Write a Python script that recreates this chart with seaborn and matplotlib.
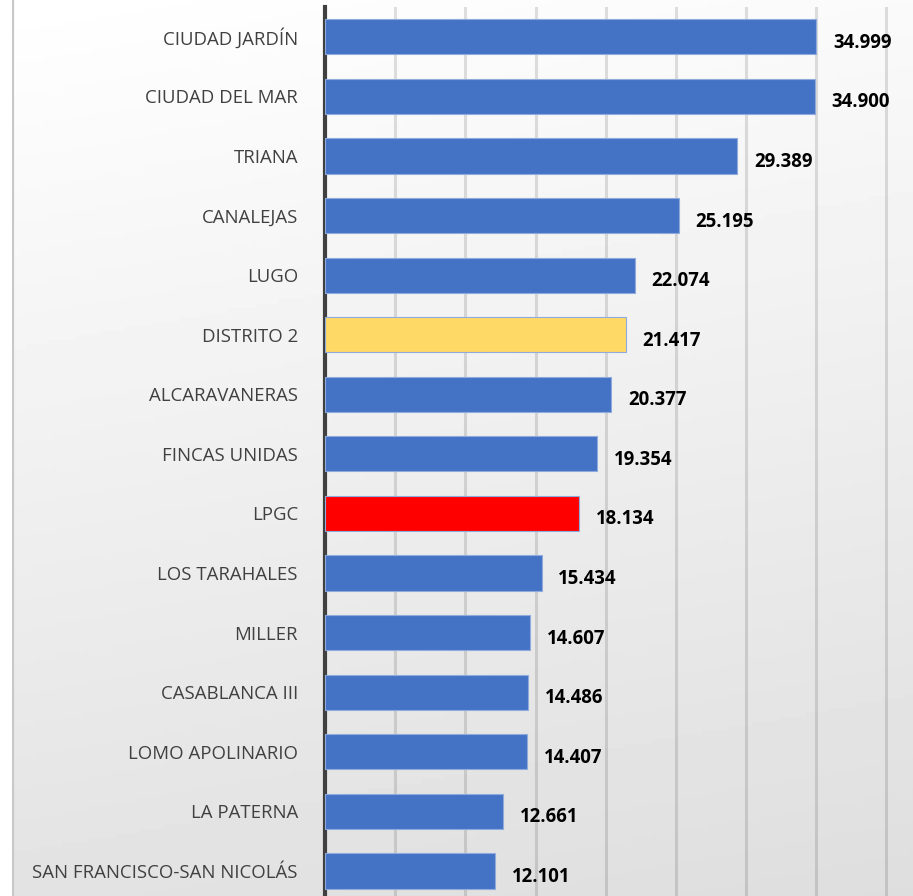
import matplotlib.pyplot as plt
import numpy as np
import pandas as pd
import seaborn as sns

barrios = [
    "CIUDAD JARDÍN", "CIUDAD DEL MAR", "TRIANA", "CANALEJAS", "LUGO",
    "DISTRITO 2", "ALCARAVANERAS", "FINCAS UNIDAS", "LPGC", "LOS TARAHALES",
    "MILLER", "CASABLANCA III", "LOMO APOLINARIO", "LA PATERNA",
    "SAN FRANCISCO-SAN NICOLÁS",
]
renta = [34999, 34900, 29389, 25195, 22074, 21417, 20377, 19354, 18134,
         15434, 14607, 14486, 14407, 12661, 12101]
destacados = {"DISTRITO 2": "#ffd966", "LPGC": "#ff0000"}

df = pd.DataFrame({"barrio": barrios, "renta": renta})
palette = {b: destacados.get(b, "#4472c4") for b in barrios}

fig = plt.figure(figsize=(9.13, 8.96), dpi=100)
fig.patch.set_facecolor("white")

# degradado de fondo
bg = fig.add_axes([12 / 913, 0, 1 - 12 / 913, 1], zorder=0)
yy, xx = np.mgrid[0:1:200j, 0:1:200j]
shade = 1.0 - 0.13 * (0.85 * yy + 0.15 * xx)
bg.imshow(shade, cmap="gray", vmin=0, vmax=1, aspect="auto",
          extent=(0, 1, 0, 1), origin="upper")
bg.axvline(0, color="#c8c8c8", lw=3)
bg.set_axis_off()

ax = fig.add_axes([325 / 913, 0, 1 - 325 / 913, 1 - 7 / 896], zorder=1)
ax.set_facecolor("none")

sns.barplot(data=df, x="renta", y="barrio", hue="barrio", palette=palette,
            legend=False, width=0.59, orient="h", ax=ax, saturation=1,
            edgecolor="#8faadc", linewidth=0.8, zorder=3)

ax.set_xlim(0, 41900)
ax.set_ylim(14.42, -0.5)
ax.set_xticks(np.arange(5000, 41000, 5000))
ax.xaxis.grid(True, color="black", alpha=0.12, lw=2.2, zorder=0)
ax.set_axisbelow(True)
ax.tick_params(axis="x", length=0, labelbottom=False)
ax.tick_params(axis="y", length=0, pad=19.5, labelsize=13.4, labelcolor="#404040")
for lbl in ax.get_yticklabels():
    lbl.set_fontfamily("Open Sans")
ax.set_xlabel("")
ax.set_ylabel("")
for side in ["top", "right", "bottom"]:
    ax.spines[side].set_visible(False)
ax.spines["left"].set_color("#404040")
ax.spines["left"].set_linewidth(3)

for i, v in enumerate(renta):
    etiqueta = f"{v:,}".replace(",", ".")
    ax.text(v + 1200, i + 0.1, etiqueta, ha="left", va="center",
            fontsize=13.4, fontweight="bold", color="black",
            fontfamily="Open Sans")

fig.savefig("out.png", dpi=100)
plt.close(fig)
